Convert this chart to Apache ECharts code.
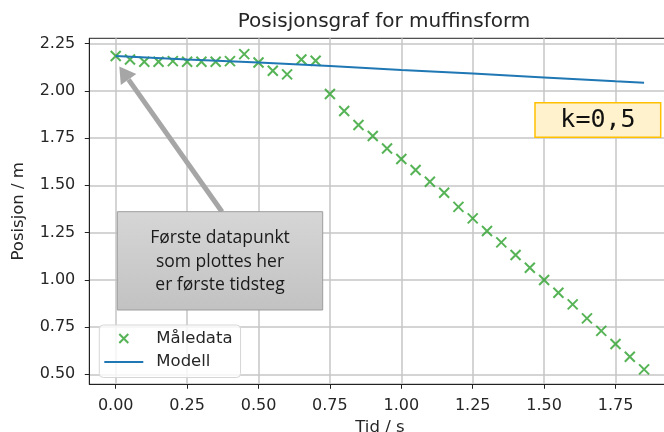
<!DOCTYPE html>
<html>
<head>
<meta charset="utf-8">
<script src="https://cdn.jsdelivr.net/npm/echarts@6/dist/echarts.min.js"></script>
<style>
  html, body { margin: 0; padding: 0; background: #ffffff; }
  #chart { width: 664px; height: 432px; }
</style>
</head>
<body>
<div id="chart"></div>
<script>
// Measured positions (Måledata), one sample every 0.05 s
const times = [0.00, 0.05, 0.10, 0.15, 0.20, 0.25, 0.30, 0.35, 0.40, 0.45,
               0.50, 0.55, 0.60, 0.65, 0.70, 0.75, 0.80, 0.85, 0.90, 0.95,
               1.00, 1.05, 1.10, 1.15, 1.20, 1.25, 1.30, 1.35, 1.40, 1.45,
               1.50, 1.55, 1.60, 1.65, 1.70, 1.75, 1.80, 1.85];
const measured = [2.184, 2.166, 2.154, 2.154, 2.157, 2.154, 2.154, 2.154, 2.157, 2.194,
                  2.150, 2.106, 2.087, 2.166, 2.159, 1.983, 1.893, 1.819, 1.761, 1.695,
                  1.639, 1.581, 1.519, 1.461, 1.386, 1.325, 1.258, 1.198, 1.131, 1.064,
                  0.999, 0.932, 0.870, 0.796, 0.730, 0.660, 0.593, 0.526];

// Model curve (Modell)
const modelTimes = [0.00, 0.25, 0.50, 0.75, 1.00, 1.25, 1.50, 1.75, 1.85];
const modelValues = [2.184, 2.165, 2.150, 2.131, 2.110, 2.092, 2.071, 2.050, 2.043];

// Tick positions
const xTicks = [0.00, 0.25, 0.50, 0.75, 1.00, 1.25, 1.50, 1.75];
const yTicks = [0.50, 0.75, 1.00, 1.25, 1.50, 1.75, 2.00, 2.25];

// Text
const titleText = 'Posisjonsgraf for muffinsform';
const xName = 'Tid / s';
const yName = 'Posisjon / m';
const seriesNames = ['Måledata', 'Modell'];
const noteText = ['Første datapunkt', 'som plottes her', 'er første tidsteg'];
const kText = 'k=0,5';

const GREEN = '#2ca02c';
const BLUE = '#1f77b4';
const INK = '#262626';
const FONT = 'DejaVu Sans';
const crossPath = 'path://M0,0L10,10M10,0L0,10';

const chart = echarts.init(document.getElementById('chart'), null, { renderer: 'canvas' });

const axisCommon = {
  type: 'value',
  axisLine: { show: true, onZero: false, lineStyle: { color: '#222222', width: 1 } },
  splitLine: { show: true, lineStyle: { color: '#c6c6c6', width: 1.5 } },
  nameLocation: 'middle',
  nameTextStyle: { fontFamily: FONT, fontSize: 16.5, color: INK }
};

chart.setOption({
  animation: false,
  backgroundColor: '#ffffff',
  title: {
    text: titleText,
    left: 379, top: 7, textAlign: 'center',
    textStyle: { fontFamily: FONT, fontSize: 20, fontWeight: 'normal', color: INK }
  },
  grid: {
    left: 89.3, top: 38.3, width: 581.2, height: 346,
    show: true, borderColor: '#222222', borderWidth: 1, backgroundColor: 'transparent',
    containLabel: false, outerBoundsMode: 'none'
  },
  xAxis: Object.assign({}, axisCommon, {
    min: -0.0925, max: 1.9425,
    name: xName, nameGap: 33,
    axisTick: { show: true, customValues: xTicks, length: 4.5, lineStyle: { color: '#222222', width: 1 } },
    axisLabel: {
      customValues: xTicks, formatter: v => v.toFixed(2),
      margin: 14, fontFamily: FONT, fontSize: 16, color: INK
    }
  }),
  yAxis: Object.assign({}, axisCommon, {
    min: 0.4472, max: 2.2778,
    name: yName, nameGap: 62,
    axisTick: { show: true, customValues: yTicks, length: 4.5, lineStyle: { color: '#222222', width: 1 } },
    axisLabel: {
      customValues: yTicks, formatter: v => v.toFixed(2),
      margin: 14, fontFamily: FONT, fontSize: 16, color: INK
    }
  }),
  legend: {
    orient: 'vertical', left: 99.3, top: 325,
    padding: [5, 8, 7, 4],
    itemWidth: 39, itemHeight: 9, itemGap: 6.5,
    backgroundColor: 'rgba(255,255,255,0.8)',
    borderColor: '#d6d6d6', borderWidth: 1, borderRadius: 4,
    selectedMode: false,
    textStyle: { fontFamily: FONT, fontSize: 16.5, color: INK, padding: [0, 0, 0, 8] },
    data: [
      { name: seriesNames[0], icon: crossPath,
        itemStyle: { color: 'transparent', borderColor: GREEN, borderWidth: 2 } },
      { name: seriesNames[1],
        itemStyle: { color: 'transparent', borderColor: 'transparent', borderWidth: 0, opacity: 0 } }
    ]
  },
  series: [
    {
      name: seriesNames[0],
      type: 'scatter',
      symbol: crossPath,
      symbolSize: 10,
      itemStyle: { color: 'transparent', borderColor: GREEN, borderWidth: 2 },
      emphasis: { disabled: true },
      z: 2,
      data: times.map((t, i) => [t, measured[i]])
    },
    {
      name: seriesNames[1],
      type: 'line',
      symbol: 'none',
      showSymbol: false,
      lineStyle: { color: BLUE, width: 2 },
      itemStyle: { color: BLUE },
      emphasis: { disabled: true },
      z: 3,
      data: modelTimes.map((t, i) => [t, modelValues[i]])
    }
  ]
});

// Annotations: callout box with an arrow pointing at the first sample, and the k label
const first = chart.convertToPixel({ gridIndex: 0 }, [times[0], measured[0]]);
const tail = [222, 211.7];
const tip = [first[0] + 3.6, first[1] + 10.5];
const dx = tip[0] - tail[0], dy = tip[1] - tail[1];
const len = Math.sqrt(dx * dx + dy * dy);
const ux = dx / len, uy = dy / len;
const headLen = 16, headHalf = 9.5;
const base = [tip[0] - ux * headLen, tip[1] - uy * headLen];

chart.setOption({
  graphic: [
    {
      type: 'line', z: 100,
      shape: { x1: tail[0], y1: tail[1], x2: base[0], y2: base[1] },
      style: { stroke: '#a6a6a6', lineWidth: 5 }
    },
    {
      type: 'polygon', z: 100,
      shape: { points: [
        tip,
        [base[0] - uy * headHalf, base[1] + ux * headHalf],
        [base[0] + uy * headHalf, base[1] - ux * headHalf]
      ] },
      style: { fill: '#a6a6a6' }
    },
    {
      type: 'rect', z: 101,
      shape: { x: 117.3, y: 211.7, width: 205.4, height: 98.3 },
      style: {
        fill: new echarts.graphic.LinearGradient(0, 0, 0, 1, [
          { offset: 0, color: '#d6d6d6' },
          { offset: 1, color: '#c2c2c2' }
        ]),
        stroke: '#9d9d9d', lineWidth: 1
      }
    },
    {
      type: 'text', z: 102,
      x: 220, y: 262,
      style: {
        text: noteText.join('\n'),
        align: 'center', verticalAlign: 'middle',
        lineHeight: 23.5,
        font: '17.5px "Open Sans"',
        fill: '#1a1a1a'
      }
    },
    {
      type: 'rect', z: 101,
      shape: { x: 535, y: 102.7, width: 125.7, height: 34.6 },
      style: { fill: '#fff2cc', stroke: '#ffc000', lineWidth: 1.5 }
    },
    {
      type: 'text', z: 102,
      x: 598, y: 120.5,
      style: {
        text: kText,
        align: 'center', verticalAlign: 'middle',
        font: '25px "DejaVu Sans Mono"',
        fill: '#111111'
      }
    }
  ]
});
</script>
</body>
</html>
